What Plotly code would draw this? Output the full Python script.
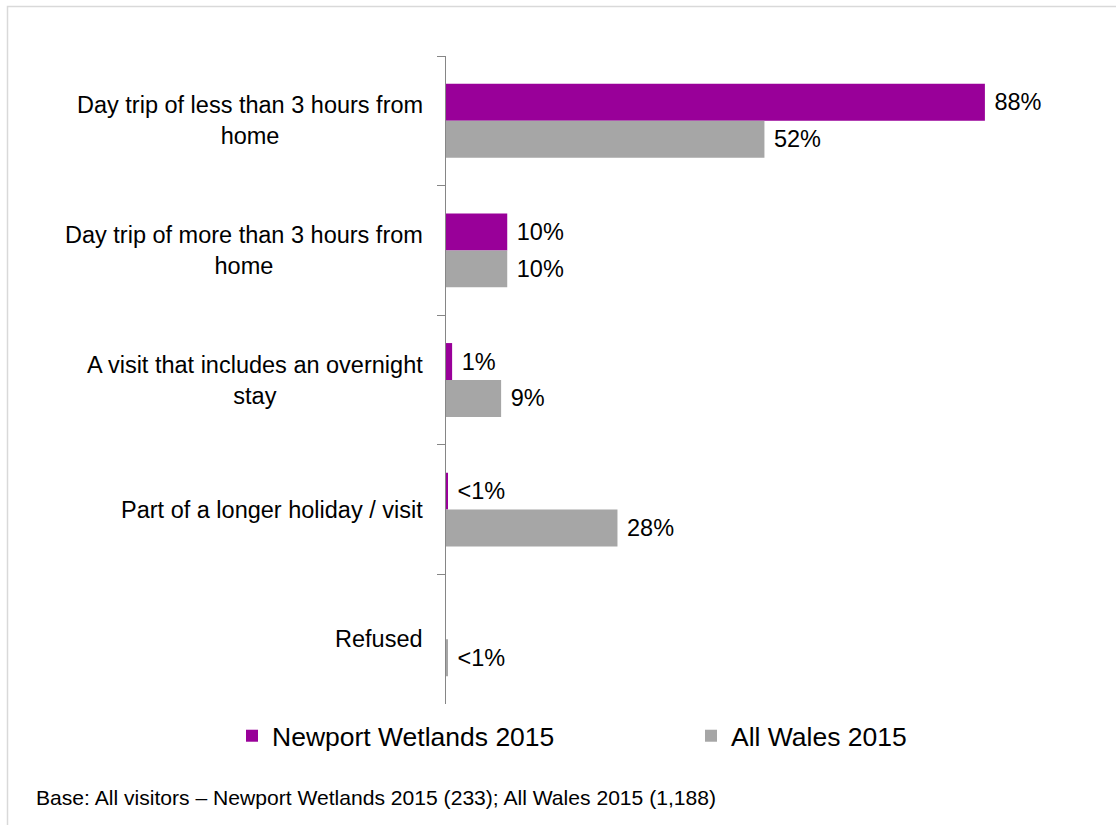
import plotly.graph_objects as go

# Survey categories (top to bottom) and the share of visitors in each
categories = [
    "Day trip of less than 3 hours from<br>home",
    "Day trip of more than 3 hours from<br>home",
    "A visit that includes an overnight<br>stay",
    "Part of a longer holiday / visit",
    "Refused",
]
newport_2015 = [88, 10, 1, 0.3, None]
all_wales_2015 = [52, 10, 9, 28, 0.3]

series_names = ["Newport Wetlands 2015", "All Wales 2015"]
series_colors = ["#990099", "#a6a6a6"]
footnote = "Base: All visitors \u2013 Newport Wetlands 2015 (233); All Wales 2015 (1,188)"

FONT = "Liberation Sans, Arial, sans-serif"
W, H = 1116, 825
L, R, T, B = 446, 27, 56, 121
PW, PH = W - L - R, H - T - B


def px_x(px):
    return (px - L) / PW


def px_y(py):
    return (H - B - py) / PH


def pct_label(v):
    if v is None:
        return ""
    return " <1%" if v < 1 else f" {v:.0f}%"


fig = go.Figure()
legend_ids = ["legend", "legend2"]
for name, vals, color, lg in zip(series_names, [newport_2015, all_wales_2015],
                                 series_colors, legend_ids):
    fig.add_trace(go.Bar(
        name=name,
        y=categories,
        x=vals,
        orientation="h",
        marker=dict(color=color, line=dict(width=0)),
        text=[pct_label(v) for v in vals],
        textposition="outside",
        textfont=dict(family=FONT, size=23.5, color="#000000"),
        constraintext="none",
        cliponaxis=False,
        hoverinfo="skip",
        legend=lg,
    ))

# Category labels, centred line by line and right-aligned against the axis
for cat in categories:
    fig.add_annotation(
        x=px_x(425), xref="paper", y=cat, yref="y",
        text=cat, showarrow=False, xanchor="right", yanchor="middle",
        align="center", font=dict(family=FONT, size=23.5, color="#000000"),
    )

# Footnote
fig.add_annotation(
    x=px_x(34), xref="paper", y=px_y(797), yref="paper",
    text=footnote, showarrow=False, xanchor="left", yanchor="middle",
    font=dict(family=FONT, size=21.1, color="#000000"),
)

# Thin frame around the chart area
fig.add_shape(
    type="rect", xref="paper", yref="paper",
    x0=px_x(7.5), x1=px_x(1130), y0=px_y(6.5), y1=px_y(840),
    line=dict(color="#d9d9d9", width=1.5), fillcolor="rgba(0,0,0,0)", layer="below",
)

legend_style = dict(
    orientation="h", xanchor="left", yanchor="top", y=px_y(712),
    font=dict(family=FONT, size=26.5, color="#000000"),
    bgcolor="rgba(0,0,0,0)",
)

fig.update_layout(
    width=W, height=H,
    margin=dict(l=L, r=R, t=T, b=B, pad=0),
    paper_bgcolor="white", plot_bgcolor="white",
    barmode="group", bargap=0.43, bargroupgap=0,
    showlegend=True,
    legend=dict(x=px_x(232), **legend_style),
    legend2=dict(x=px_x(691), **legend_style),
    xaxis=dict(range=[0, 105], visible=False, fixedrange=True),
    yaxis=dict(
        categoryorder="array", categoryarray=categories, autorange="reversed",
        showticklabels=False, showgrid=False, zeroline=False,
        showline=True, linecolor="#868686", linewidth=1,
        ticks="outside", tickson="boundaries", ticklen=8, tickcolor="#868686", tickwidth=1,
    ),
    font=dict(family=FONT),
)

fig.write_html("out.html")
